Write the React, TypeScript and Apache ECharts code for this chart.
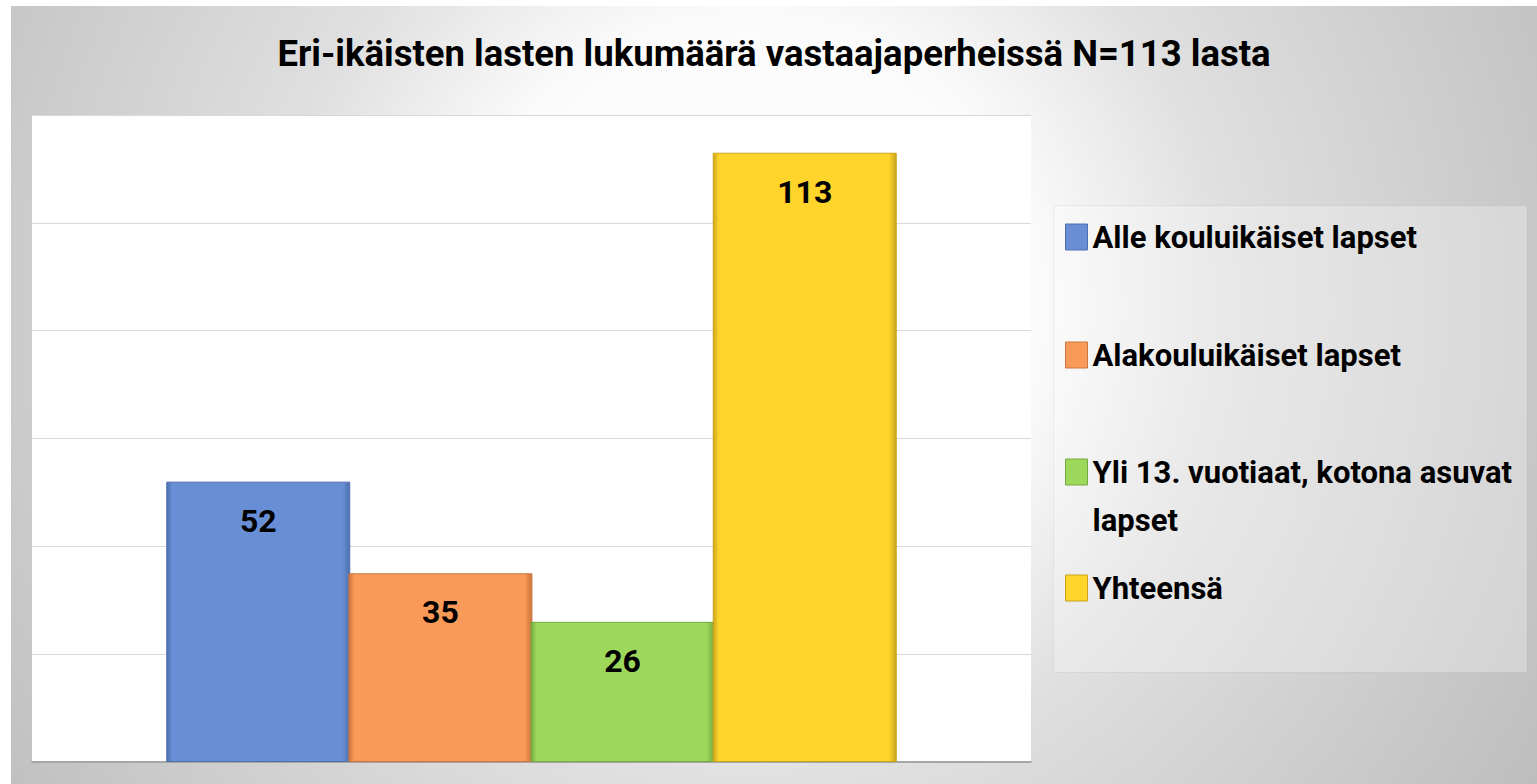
import React, { useEffect, useRef } from "react";
import * as echarts from "echarts";

const titleText = "Eri-ikäisten lasten lukumäärä vastaajaperheissä N=113 lasta";
const categories = [""];
const seriesNames = [
  "Alle kouluikäiset lapset",
  "Alakouluikäiset lapset",
  "Yli 13. vuotiaat, kotona asuvat lapset",
  "Yhteensä",
];
const legendLabels = [
  "Alle kouluikäiset lapset",
  "Alakouluikäiset lapset",
  "\u00a0\nYli 13. vuotiaat, kotona asuvat\nlapset",
  "Yhteensä",
];
const seriesValues = [52, 35, 26, 113];
const seriesColors = ["#688FD6", "#FA9A58", "#9DD85B", "#FFD42B"];
const seriesDark = ["#4E6FAE", "#C8763E", "#76A940", "#C9A41C"];
const yTicks = { min: 0, max: 120, interval: 20 };

const FONT = "Roboto, sans-serif";

export default function App() {
  const ref = useRef<HTMLDivElement>(null);
  useEffect(() => {
    if (!ref.current) return;
    const chart = echarts.init(ref.current, undefined, { renderer: "svg" });
    const legendTops = [214, 332, 394, 565];
    const legends = seriesNames.map((n, i) => ({
      data: [{ name: n, icon: "rect" }],
      left: 1054,
      top: legendTops[i],
      padding: 0,
      itemWidth: 22,
      itemHeight: 26,
      selectedMode: false,
      formatter: () => legendLabels[i],
      textStyle: {
        fontFamily: FONT,
        fontWeight: "bold",
        fontSize: 31,
        color: "#000",
        lineHeight: i === 2 ? 48 : 34,
      },
      itemStyle: { borderColor: seriesDark[i], borderWidth: 1 },
    }));
    const option: any = {
      animation: false,
      backgroundColor: {
        type: "radial",
        x: 740,
        y: 300,
        r: 950,
        global: true,
        colorStops: [
          { offset: 0, color: "#ffffff" },
          { offset: 0.3, color: "#fbfbfb" },
          { offset: 0.5, color: "#e0e0e0" },
          { offset: 0.85, color: "#c6c6c6" },
          { offset: 1, color: "#bbbbbb" },
        ],
      },
      title: {
        text: titleText,
        left: "center",
        top: 29,
        padding: 0,
        textStyle: { fontFamily: FONT, fontWeight: "bold", fontSize: 36.5, color: "#000" },
      },
      graphic: [
        {
          type: "rect",
          left: 1042,
          top: 199,
          shape: { width: 474, height: 467 },
          style: { fill: "rgba(255,255,255,0.28)", stroke: "rgba(0,0,0,0.05)", lineWidth: 1 },
          z: -1,
          silent: true,
        },
      ],
      legend: legends,
      grid: {
        left: 21,
        top: 109,
        right: 506,
        bottom: 22,
        show: true,
        backgroundColor: "#ffffff",
        borderWidth: 0,
      },
      xAxis: {
        type: "category",
        data: categories,
        axisLine: { lineStyle: { color: "#a6a6a6", width: 2 } },
        axisTick: { show: false },
        axisLabel: { show: false },
      },
      yAxis: {
        type: "value",
        min: yTicks.min,
        max: yTicks.max,
        interval: yTicks.interval,
        axisLabel: { show: false },
        axisLine: { show: false },
        axisTick: { show: false },
        splitLine: { lineStyle: { color: "#d9d9d9", width: 1 } },
      },
      series: seriesNames.map((n, i) => ({
        name: n,
        type: "bar",
        data: [seriesValues[i]],
        barWidth: 184,
        barGap: "-1%",
        itemStyle: {
          color: {
            type: "linear",
            x: 0,
            y: 0,
            x2: 1,
            y2: 0,
            colorStops: [
              { offset: 0, color: seriesDark[i] },
              { offset: 0.03, color: seriesColors[i] },
              { offset: 0.96, color: seriesColors[i] },
              { offset: 1, color: seriesDark[i] },
            ],
          },
          borderColor: seriesDark[i],
          borderWidth: 1,
        },
        label: {
          show: true,
          position: "insideTop",
          distance: 23,
          fontFamily: FONT,
          fontWeight: "bold",
          fontSize: 32,
          color: "#000",
        },
      })),
    };
    chart.setOption(option);
    return () => chart.dispose();
  }, []);
  return (
    <div
      ref={ref}
      style={{ position: "absolute", left: 11, top: 6, width: 1526, height: 778 }}
    />
  );
}
